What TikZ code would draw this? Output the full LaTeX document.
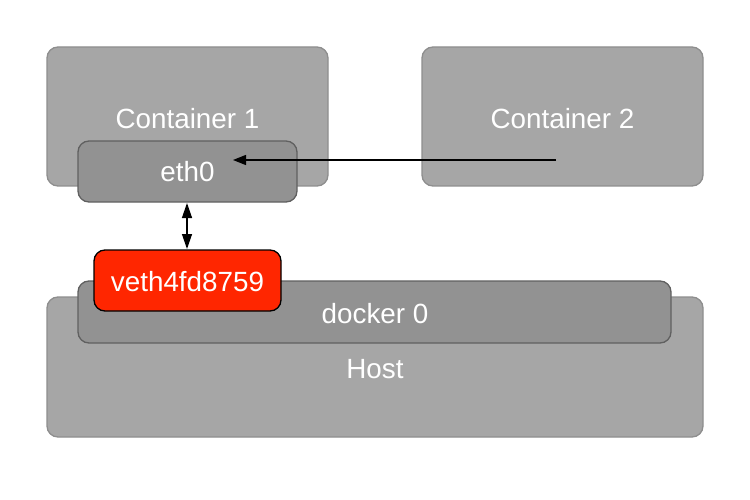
\documentclass[tikz,border=0pt]{standalone}
\usepackage{fontspec}
\setmainfont{Liberation Sans}
\usetikzlibrary{arrows.meta}
\begin{document}
\begin{tikzpicture}[x=1pt,y=-1pt,
  gbox/.style={fill=cgray, draw=cgrayb, line width=1.3pt, rounded corners=11pt},
  ebox/.style={fill=egray, draw=egrayb, line width=1.3pt, rounded corners=11pt},
  rbox/.style={fill=vred, draw=black, line width=1.3pt, rounded corners=11pt},
  lbl/.style={text=white, font=\fontsize{27.8}{32}\selectfont},
  arr/.style={line width=1.3pt, -{Triangle[length=13pt,width=10pt]}},
  darr/.style={line width=1.3pt, {Triangle[length=15pt,width=10pt]}-{Triangle[length=15pt,width=10pt]}}]
\definecolor{cgray}{HTML}{A6A6A6}
\definecolor{cgrayb}{HTML}{8E8E8E}
\definecolor{egray}{HTML}{929292}
\definecolor{egrayb}{HTML}{606060}
\definecolor{vred}{HTML}{FF2600}
\useasboundingbox (0,0) rectangle (750,500);
% containers and host
\filldraw[gbox] (47,47) rectangle (328,186);
\filldraw[gbox] (422,47) rectangle (703,186);
\filldraw[gbox] (47,297) rectangle (703,437);
\node[lbl] (c1) at (187.5,119) {Container 1};
\node[lbl] (c2) at (562.5,119) {Container 2};
\node[lbl] (host) at (375,369) {Host};
% eth0
\filldraw[ebox] (78,141) rectangle (297,202);
\node[lbl] (eth) at (187.5,172) {eth0};
\coordinate (ethbot) at (187,203);
\coordinate (ethin) at (233,160);
% docker 0
\filldraw[ebox] (78,281) rectangle (671,343);
\node[lbl] (dock) at (375,314) {docker 0};
% veth
\filldraw[rbox] (94,250) rectangle (281,311);
\node[lbl] (veth) at (187.5,282) {veth4fd8759};
\coordinate (vethtop) at (187,249);
\coordinate (c2src) at (556,160);
% arrows
\draw[arr] (c2src) -- (ethin);
\draw[darr] (ethbot) -- (vethtop);
\end{tikzpicture}
\end{document}
